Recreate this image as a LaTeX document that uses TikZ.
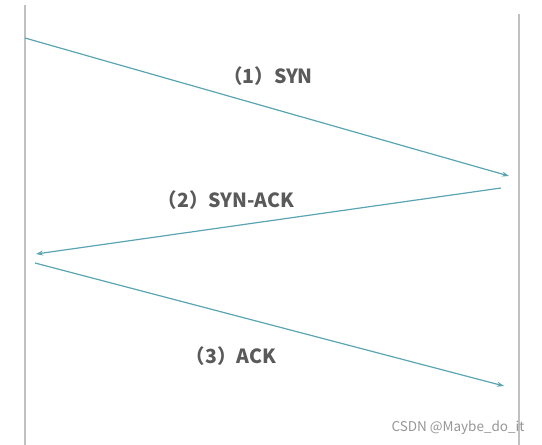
\documentclass[tikz,border=0pt]{standalone}
\usepackage{fontspec}
\usepackage{xcolor}
\usetikzlibrary{arrows.meta}
\newfontfamily\cjk{Noto Sans CJK SC}
\definecolor{HSTeal}{RGB}{90,165,178}
\definecolor{HSGray}{RGB}{192,192,192}
\definecolor{HSText}{RGB}{90,90,90}
\definecolor{HSMark}{RGB}{150,150,150}

\begin{document}
\begin{tikzpicture}[x=1pt, y=-1pt,
            life/.style={HSGray, line width=1.7pt},
            msg/.style={-{Stealth[length=7pt, width=5pt]}, HSTeal, line width=1.2pt},
            lbl/.style={font=\cjk\fontsize{19.5}{22}\selectfont\bfseries, text=HSText, inner sep=0pt}
          ]
          \useasboundingbox (0,0) rectangle (542,445);
          % lifelines
          \coordinate (ltop) at (25,5);
          \coordinate (lbot) at (25,445);
          \coordinate (rtop) at (519,14);
          \coordinate (rbot) at (519,445);
          \draw[life] (ltop) -- (lbot);
          \draw[life] (rtop) -- (rbot);

          % message end points
          \coordinate (syn0) at (25,38);
          \coordinate (syn1) at (509,176);
          \coordinate (sa0)  at (501,188);
          \coordinate (sa1)  at (36,254);
          \coordinate (ack0) at (35,263);
          \coordinate (ack1) at (504,386);

          \draw[msg] (syn0) -- (syn1);
          \draw[msg] (sa0)  -- (sa1);
          \draw[msg] (ack0) -- (ack1);

          \node[lbl] (synl) at (268,76)  {（1）SYN};
          \node[lbl] (sal)  at (226,200) {（2）SYN-ACK};
          \node[lbl] (ackl) at (231,356) {（3）ACK};

          \node[font=\cjk\fontsize{13.5}{15}\selectfont, text=HSMark, inner sep=0pt] (mark) at (458,428) {CSDN @Maybe\_do\_it};
        \end{tikzpicture}
\end{document}
